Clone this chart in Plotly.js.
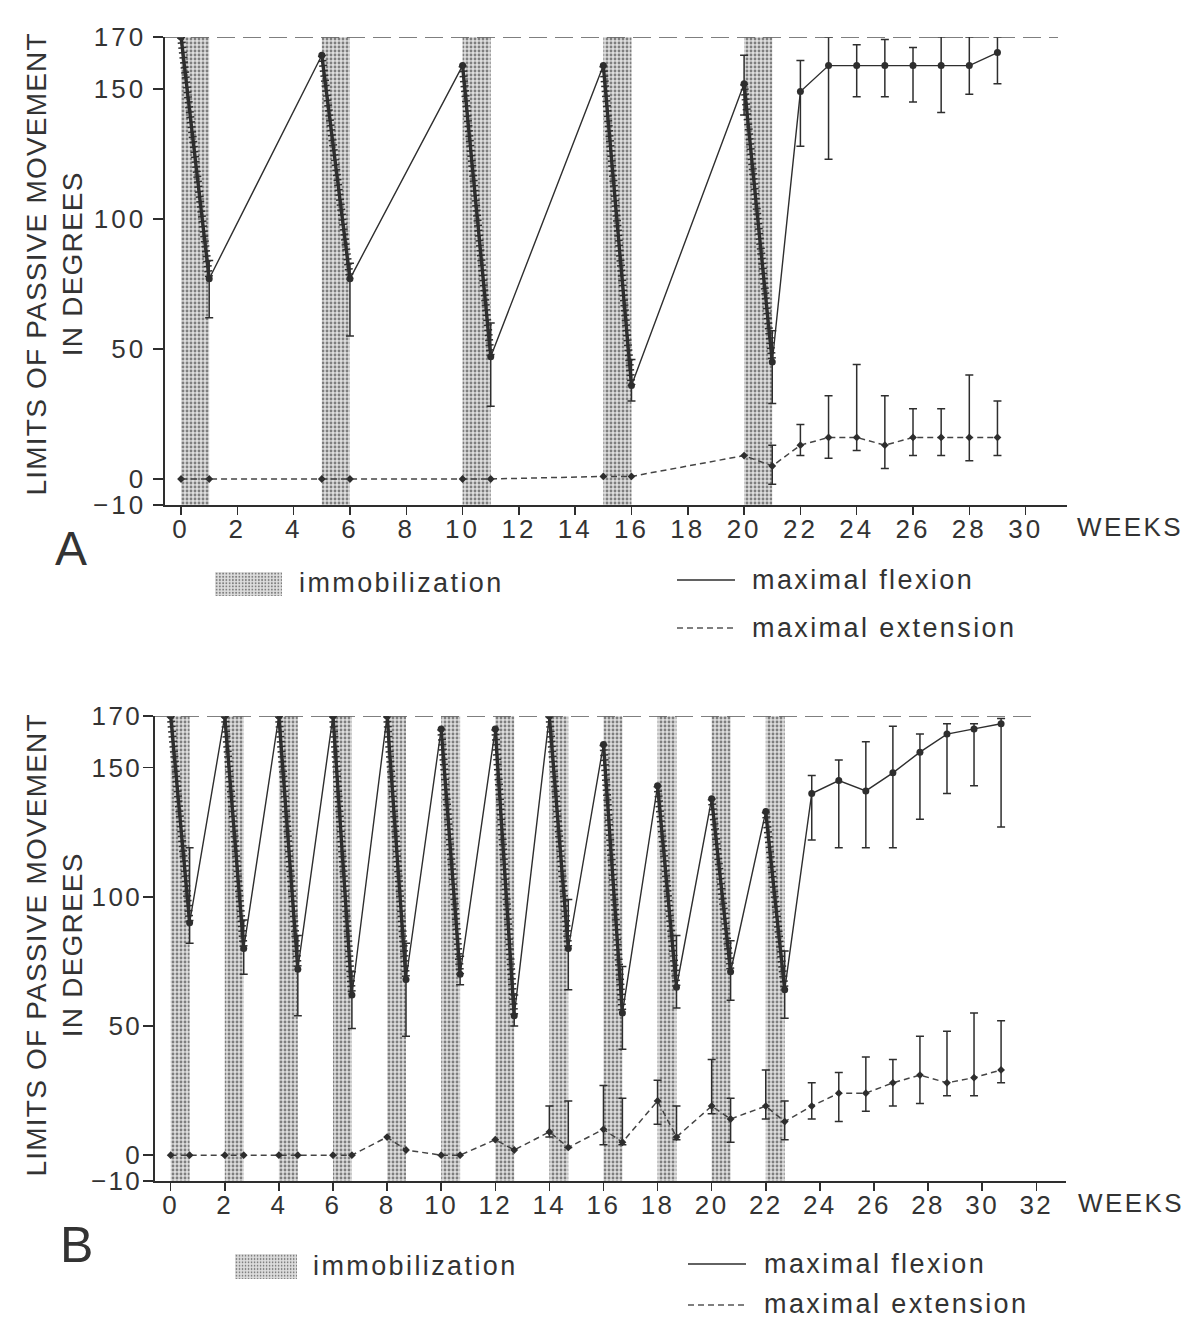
<!DOCTYPE html>
<html>
<head>
<meta charset="utf-8">
<script src="https://cdn.plot.ly/plotly-3.0.1.min.js"></script>
<style>
  html, body { margin: 0; padding: 0; background: #fff; }
  #chart { width: 1196px; height: 1323px; }
  svg text { letter-spacing: 2.4px; }
  .xtick text, .ytick text { letter-spacing: 3px; }
  g.annotation[data-index="0"] text, g.annotation[data-index="1"] text { letter-spacing: 1.2px; }
</style>
</head>
<body>
<div id="chart"></div>
<script>
// ---------------- DATA ----------------
const fullFlexion = 170;
const yTicks = [-10, 0, 50, 100, 150, 170];

// Panel A
const ticksA = [0, 2, 4, 6, 8, 10, 12, 14, 16, 18, 20, 22, 24, 26, 28, 30];
const immobStartA = [0, 5, 10, 15, 20];
const immobLenA = 1;
const weeksA = [0, 1, 5, 6, 10, 11, 15, 16, 20, 21, 22, 23, 24, 25, 26, 27, 28, 29];
const flexA = [170, 77, 163, 77, 159, 47, 159, 36, 152, 45, 149, 159, 159, 159, 159, 159, 159, 164];
const flexAHi = [null, 84, null, 83, null, 60, null, 46, 163, 57, 161, 170, 167, 169, 166, 170, 170, 170];
const flexALo = [null, 62, null, 55, null, 28, null, 30, 140, 29, 128, 123, 147, 147, 145, 141, 148, 152];
const extA = [0, 0, 0, 0, 0, 0, 1, 1, 9, 5, 13, 16, 16, 13, 16, 16, 16, 16];
const extAHi = [null, null, null, null, null, null, null, null, null, 13, 21, 32, 44, 32, 27, 27, 40, 30];
const extALo = [null, null, null, null, null, null, null, null, null, -2, 9, 8, 11, 4, 9, 9, 7, 9];

// Panel B
const ticksB = [0, 2, 4, 6, 8, 10, 12, 14, 16, 18, 20, 22, 24, 26, 28, 30, 32];
const immobStartB = [0, 2, 4, 6, 8, 10, 12, 14, 16, 18, 20, 22];
const immobLenB = 0.7;
const weeksB = [0, 0.7, 2, 2.7, 4, 4.7, 6, 6.7, 8, 8.7, 10, 10.7, 12, 12.7, 14, 14.7, 16, 16.7,
                18, 18.7, 20, 20.7, 22, 22.7, 23.7, 24.7, 25.7, 26.7, 27.7, 28.7, 29.7, 30.7];
const flexB = [170, 90, 170, 80, 170, 72, 170, 62, 170, 68, 165, 70, 165, 54, 170, 80, 159, 55,
               143, 65, 138, 71, 133, 64, 140, 145, 141, 148, 156, 163, 165, 167];
const flexBHi = [null, 119, null, 91, null, 85, null, 71, null, 82, null, 77, null, 62, null, 99, null, 73,
                 null, 85, null, 83, null, 79, 147, 153, 160, 166, 163, 167, 167, 169];
const flexBLo = [null, 82, null, 70, null, 54, null, 49, null, 46, null, 66, null, 50, null, 64, null, 41,
                 null, 57, null, 60, null, 53, 122, 119, 119, 119, 130, 140, 143, 127];
const extB = [0, 0, 0, 0, 0, 0, 0, 0, 7, 2, 0, 0, 6, 2, 9, 3, 10, 5,
              21, 7, 19, 14, 19, 13, 19, 24, 24, 28, 31, 28, 30, 33];
const extBHi = [null, null, null, null, null, null, null, null, null, null, null, null, null, null, 19, 21, 27, 22,
                29, 19, 37, 22, 33, 21, 28, 32, 38, 37, 46, 48, 55, 52];
const extBLo = [null, null, null, null, null, null, null, null, null, null, null, null, null, null, 7, 3, 4, 4,
                12, 6, 16, 5, 14, 6, 14, 13, 17, 19, 20, 23, 23, 28];

// ---------------- STYLE / BUILD ----------------
const FONT = 'Liberation Sans, Arial, Helvetica, sans-serif';
const INK = '#2e2e2e';
const TXT = '#333333';
const W = 1196, H = 1323;
const px = x => x / W;
const py = y => 1 - y / H;

function errPlus(v, hi) { return v.map((d, i) => hi[i] == null ? NaN : hi[i] - d); }
function errMinus(v, lo) { return v.map((d, i) => lo[i] == null ? NaN : d - lo[i]); }

function thickSegments(weeks, vals, starts) {
  const xs = [], ys = [];
  starts.forEach(s => {
    const i = weeks.indexOf(s);
    if (i >= 0 && i + 1 < weeks.length) {
      xs.push(weeks[i], weeks[i + 1], null);
      ys.push(vals[i], vals[i + 1], null);
    }
  });
  return { xs, ys };
}

function panelTraces(xa, ya, weeks, flex, fHi, fLo, ext, eHi, eLo, starts, len) {
  const axisMin = yTicks[0];
  const bars = {
    type: 'bar', xaxis: xa, yaxis: ya,
    x: starts.map(s => s + len / 2),
    y: starts.map(() => fullFlexion - axisMin),
    base: starts.map(() => axisMin),
    width: starts.map(() => len),
    marker: {
      color: '#dcdcdc', line: { width: 0 },
      pattern: { shape: '.', fgcolor: '#7e7e7e', bgcolor: '#dedede', size: 4, solidity: 0.4, fillmode: 'replace' }
    },
    showlegend: false, hoverinfo: 'skip'
  };
  const flexLine = {
    type: 'scatter', mode: 'lines+markers', xaxis: xa, yaxis: ya,
    x: weeks, y: flex,
    line: { color: INK, width: 1.4 },
    marker: { color: INK, size: 7, symbol: 'circle' },
    error_y: { type: 'data', symmetric: false, array: errPlus(flex, fHi), arrayminus: errMinus(flex, fLo),
               color: INK, thickness: 1.5, width: 4 },
    showlegend: false
  };
  const seg = thickSegments(weeks, flex, starts);
  const thick = {
    type: 'scatter', mode: 'lines', xaxis: xa, yaxis: ya,
    x: seg.xs, y: seg.ys, line: { color: INK, width: 3.4 }, connectgaps: false,
    showlegend: false, hoverinfo: 'skip'
  };
  const hatch = {
    type: 'scatter', mode: 'lines', xaxis: xa, yaxis: ya,
    x: seg.xs, y: seg.ys, line: { color: INK, width: 8, dash: '1.5px,3.5px' }, connectgaps: false,
    showlegend: false, hoverinfo: 'skip'
  };
  const extLine = {
    type: 'scatter', mode: 'lines+markers', xaxis: xa, yaxis: ya,
    x: weeks, y: ext,
    line: { color: '#444', width: 1.5, dash: '6px,4px' },
    marker: { color: INK, size: 6, symbol: 'diamond' },
    error_y: { type: 'data', symmetric: false, array: errPlus(ext, eHi), arrayminus: errMinus(ext, eLo),
               color: INK, thickness: 1.5, width: 4 },
    showlegend: false
  };
  return [bars, extLine, flexLine, thick, hatch];
}

const traces = [
  ...panelTraces('x', 'y', weeksA, flexA, flexAHi, flexALo, extA, extAHi, extALo, immobStartA, immobLenA),
  ...panelTraces('x2', 'y2', weeksB, flexB, flexBHi, flexBLo, extB, extBHi, extBLo, immobStartB, immobLenB)
];

const tickFont = { family: FONT, size: 26, color: TXT };
function xAxis(domain, range, ticks, anchor) {
  return {
    domain, range, anchor, autorange: false, tickmode: 'array', tickvals: ticks,
    showline: true, linecolor: INK, linewidth: 1.6, ticks: 'outside', ticklen: 8, tickwidth: 1.5,
    tickcolor: INK, showgrid: false, zeroline: false, tickfont: tickFont, ticklabelstandoff: -8, fixedrange: true
  };
}
function yAxis(domain, anchor, standoff) {
  return {
    domain, range: [yTicks[0], fullFlexion], anchor, autorange: false, tickmode: 'array', tickvals: yTicks,
    showline: true, linecolor: INK, linewidth: 1.6, ticks: 'outside', ticklen: 10, tickwidth: 1.5,
    tickcolor: INK, showgrid: false, zeroline: false, tickfont: tickFont, ticklabelstandoff: standoff, fixedrange: true
  };
}

const yTitle = 'LIMITS OF PASSIVE MOVEMENT<br>IN DEGREES';
const swatchSvg = "<svg xmlns='http://www.w3.org/2000/svg' width='66' height='24'><defs><pattern id='p' width='3.2' height='3.2' patternUnits='userSpaceOnUse'><rect width='3.2' height='3.2' fill='#dedede'/><circle cx='1.6' cy='1.6' r='0.95' fill='#7e7e7e'/></pattern></defs><rect width='66' height='24' fill='url(#p)'/></svg>";
const swatchSrc = 'data:image/svg+xml;charset=utf-8,' + encodeURIComponent(swatchSvg);

function legendShapes(xl, xr, yFlex, yExt) {
  return [
    { type: 'line', xref: 'paper', yref: 'paper', x0: px(xl), x1: px(xr), y0: py(yFlex), y1: py(yFlex),
      line: { color: INK, width: 1.5 } },
    { type: 'line', xref: 'paper', yref: 'paper', x0: px(xl), x1: px(xr), y0: py(yExt), y1: py(yExt),
      line: { color: '#555', width: 1.5, dash: '6px,4px' } }
  ];
}

function ann(text, x, y, size, anchor, extra) {
  return Object.assign({ text, xref: 'paper', yref: 'paper', x: px(x), y: py(y), showarrow: false,
    font: { family: FONT, size, color: TXT }, xanchor: anchor, yanchor: 'middle' }, extra || {});
}

const layout = {
  width: W, height: H,
  margin: { l: 0, r: 0, t: 0, b: 0 },
  paper_bgcolor: '#fff', plot_bgcolor: 'rgba(0,0,0,0)',
  showlegend: false, hovermode: false, barmode: 'overlay',
  font: { family: FONT, color: TXT },
  xaxis: xAxis([px(165), px(1067)], [-0.57, 31.47], ticksA, 'y'),
  yaxis: yAxis([py(505), py(37)], 'x', 2),
  xaxis2: xAxis([px(155), px(1066)], [-0.58, 33.1], ticksB, 'y2'),
  yaxis2: yAxis([py(1181), py(716)], 'x2', -4),
  shapes: [
    { type: 'line', xref: 'x domain', yref: 'y', x0: 0, x1: 0.99, y0: fullFlexion, y1: fullFlexion,
      line: { color: '#555', width: 1.5, dash: '18px,8px' } },
    { type: 'line', xref: 'x2 domain', yref: 'y2', x0: 0, x1: 0.97, y0: fullFlexion, y1: fullFlexion,
      line: { color: '#555', width: 1.5, dash: '18px,8px' } },
    ...legendShapes(677, 735, 580, 628),
    ...legendShapes(688, 746, 1264, 1305)
  ],
  images: [
    { source: swatchSrc, xref: 'paper', yref: 'paper', x: px(215), y: py(572), sizex: 67 / W,
      sizey: 24 / H, sizing: 'stretch', xanchor: 'left', yanchor: 'top', layer: 'above' },
    { source: swatchSrc, xref: 'paper', yref: 'paper', x: px(235), y: py(1254), sizex: 62 / W,
      sizey: 25 / H, sizing: 'stretch', xanchor: 'left', yanchor: 'top', layer: 'above' }
  ],
  annotations: [
    ann(yTitle, 54, 264, 28, 'center', { textangle: -90 }),
    ann(yTitle, 54, 945, 28, 'center', { textangle: -90 }),
    ann('WEEKS', 1130, 527, 26, 'center'),
    ann('WEEKS', 1131, 1203, 26, 'center'),
    ann('A', 72, 548, 48, 'center'),
    ann('B', 78, 1245, 50, 'center'),
    ann('immobilization', 297, 583, 27, 'left'),
    ann('maximal flexion', 750, 580, 27, 'left'),
    ann('maximal extension', 750, 628, 27, 'left'),
    ann('immobilization', 311, 1266, 27, 'left'),
    ann('maximal flexion', 762, 1264, 27, 'left'),
    ann('maximal extension', 762, 1304, 27, 'left')
  ]
};

Plotly.newPlot('chart', traces, layout, { staticPlot: true, displayModeBar: false });
</script>
</body>
</html>
